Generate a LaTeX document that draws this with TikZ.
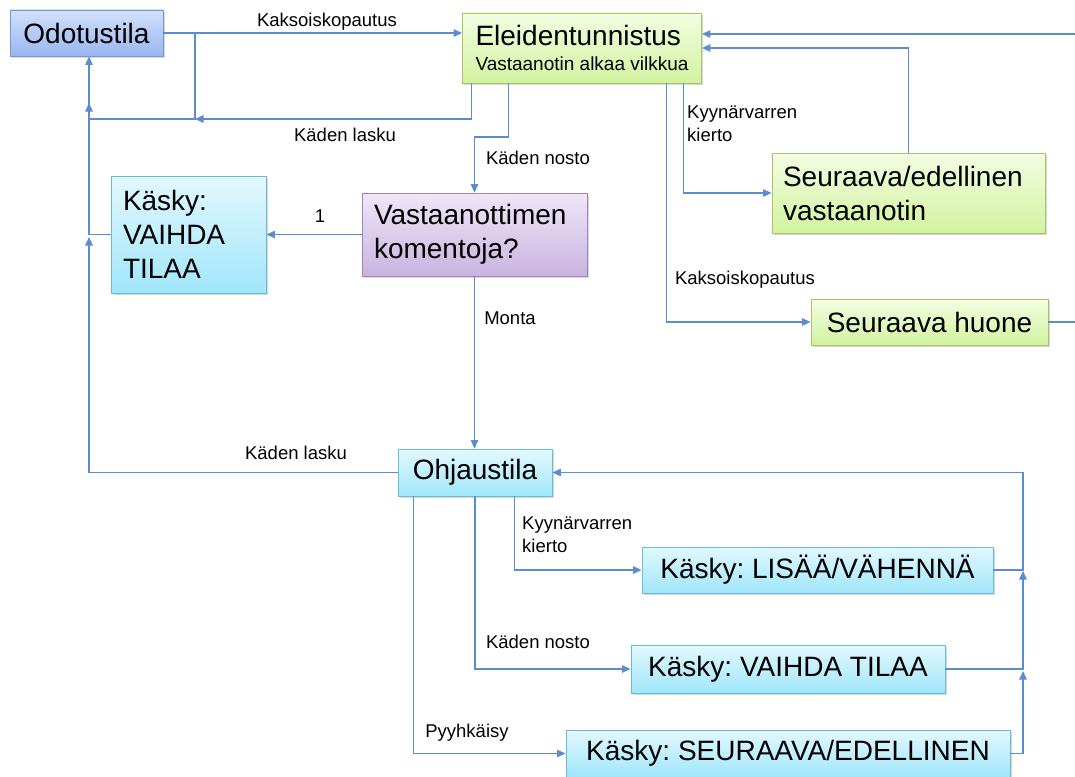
\documentclass[tikz,border=0pt]{standalone}
\usepackage{fontspec}
\setmainfont{Liberation Sans}
\usetikzlibrary{shadows,arrows.meta,calc}

\definecolor{wirec}{HTML}{5B8BD0}
\definecolor{blueedge}{HTML}{7199D8}
\definecolor{bluetop}{HTML}{D3E1FA}
\definecolor{bluebot}{HTML}{98B6F0}
\definecolor{greenedge}{HTML}{A6C46A}
\definecolor{greentop}{HTML}{F3FDE2}
\definecolor{greenbot}{HTML}{D2F3A0}
\definecolor{purpleedge}{HTML}{9C86BA}
\definecolor{purpletop}{HTML}{EFE7F8}
\definecolor{purplebot}{HTML}{C9B3E0}
\definecolor{cyanedge}{HTML}{68BDD6}
\definecolor{cyantop}{HTML}{E3F8FE}
\definecolor{cyanbot}{HTML}{A0E6FA}

\begin{document}
\frenchspacing
\begin{tikzpicture}[x=1pt,y=-1pt,
  big/.style={font=\fontsize{28}{34}\selectfont},
  lbl/.style={font=\fontsize{18.5}{23}\selectfont, inner sep=0pt},
  box/.style={draw, line width=0.9pt, inner sep=0pt, big,
    drop shadow={shadow xshift=1.5pt, shadow yshift=-2pt, opacity=0.3}},
  bluebox/.style={box, draw=blueedge, top color=bluetop, bottom color=bluebot},
  greenbox/.style={box, draw=greenedge, top color=greentop, bottom color=greenbot},
  purplebox/.style={box, draw=purpleedge, top color=purpletop, bottom color=purplebot},
  cyanbox/.style={box, draw=cyanedge, top color=cyantop, bottom color=cyanbot},
  wire/.style={draw=wirec, line width=1.1pt},
  arr/.style={wire, -{Triangle[length=8.5pt,width=7.5pt]}}
]
\useasboundingbox (0,0) rectangle (1075,776);
\fill[white] (0,0) rectangle (1075,776);
\clip (0,0) rectangle (1075,776);

% states and commands
\node[bluebox, minimum width=153, minimum height=46] (odo) at (86.5,33) {Odotustila};
\node[greenbox, minimum width=239, minimum height=70, align=left,
      font=\fontsize{28}{25}\selectfont] (eleid) at (582,48)
  {Eleidentunnistus\\{\fontsize{19}{25}\selectfont Vastaanotin alkaa vilkkua}};
\node[cyanbox, minimum height=117, text width=131, inner xsep=12, align=left] (kvt) at (188.5,234.5)
  {Käsky:\\VAIHDA\\TILAA};
\node[purplebox, minimum height=83, text width=201, inner xsep=12, align=left] (vast) at (474.5,234.5)
  {Vastaanottimen\\komentoja?};
\node[greenbox, minimum height=80, text width=251, inner xsep=11, align=left] (sed) at (908.5,193)
  {Seuraava/edellinen\\vastaanotin};
\node[greenbox, minimum width=237, minimum height=46] (shuone) at (929.5,322) {Seuraava huone};
\node[cyanbox, minimum width=154, minimum height=47] (ohj) at (475,472.5) {Ohjaustila};
\node[cyanbox, minimum width=351, minimum height=46] (lisaa) at (817.5,570) {Käsky: LISÄÄ/VÄHENNÄ};
\node[cyanbox, minimum width=314, minimum height=48] (vaihda) at (788,669) {Käsky: VAIHDA TILAA};
\node[cyanbox, minimum width=444, minimum height=47] (seur) at (788,753.5) {Käsky: SEURAAVA/EDELLINEN};

% bend points of the elbow connectors
\coordinate (j1) at (195,119);
\coordinate (a2) at (89,103);
\coordinate (a3) at (89,237);
\coordinate (k1) at (474.5,137);
\coordinate (r1) at (1023,671);
\coordinate (r2) at (1023,571);
\coordinate (off) at (1090,0);
\coordinate (e1) at ([yshift=14pt]eleid.east);

% connectors
\draw[arr] (odo.east) -- (odo.east -| eleid.west);
\draw[arr] ([xshift=9pt]eleid.south west) |- (j1);
\draw[arr] (odo.east -| j1) -- (j1) -- (j1 -| a2) -- (a2 |- odo.south);
\draw[arr] (kvt.west) -| (a2);
\draw[arr] (ohj.west) -| (a3);
\draw[arr] ([xshift=46pt]eleid.south west) |- (k1) -- (vast.north);
\draw[arr] ([xshift=204pt]eleid.south west) |- (shuone.west);
\draw[arr] ([xshift=221pt]eleid.south west) |- (sed.west);
\draw[arr] ([xshift=137pt]sed.north west) |- (eleid.east);
\draw[wire] (shuone.east) -- (shuone.east -| off);
\draw[arr] (e1 -| off) -- (e1);
\draw[arr] (vast.west) -- (kvt.east);
\draw[arr] (vast.south) -- (vast.south |- ohj.north);
\draw[arr] ([xshift=117pt]ohj.south west) |- (lisaa.west);
\draw[arr] (ohj.south) |- (vaihda.west);
\draw[arr] ([xshift=16pt]ohj.south west) |- (seur.west);
\draw[arr] (seur.east) -| (r1);
\draw[arr] (vaihda.east) -| (r2);
\draw[arr] (lisaa.east) -- (lisaa.east -| r2) |- (ohj.east);

% connector labels
\node[lbl] (l1) at (327,22) {Kaksoiskopautus};
\node[lbl] (l2) at (345,135) {Käden lasku};
\node[lbl] (l3) at (538,158) {Käden nosto};
\node[lbl] (l4) at (320,216) {1};
\node[lbl] (l5) at (510,318) {Monta};
\node[lbl, align=left, anchor=west] (l6) at (687,124) {Kyynärvarren\\kierto};
\node[lbl] (l7) at (745,280) {Kaksoiskopautus};
\node[lbl] (l8) at (296,453) {Käden lasku};
\node[lbl, align=left, anchor=west] (l9) at (522,535) {Kyynärvarren\\kierto};
\node[lbl] (l10) at (538,642) {Käden nosto};
\node[lbl] (l11) at (467,733) {Pyyhkäisy};
\end{tikzpicture}
\end{document}
